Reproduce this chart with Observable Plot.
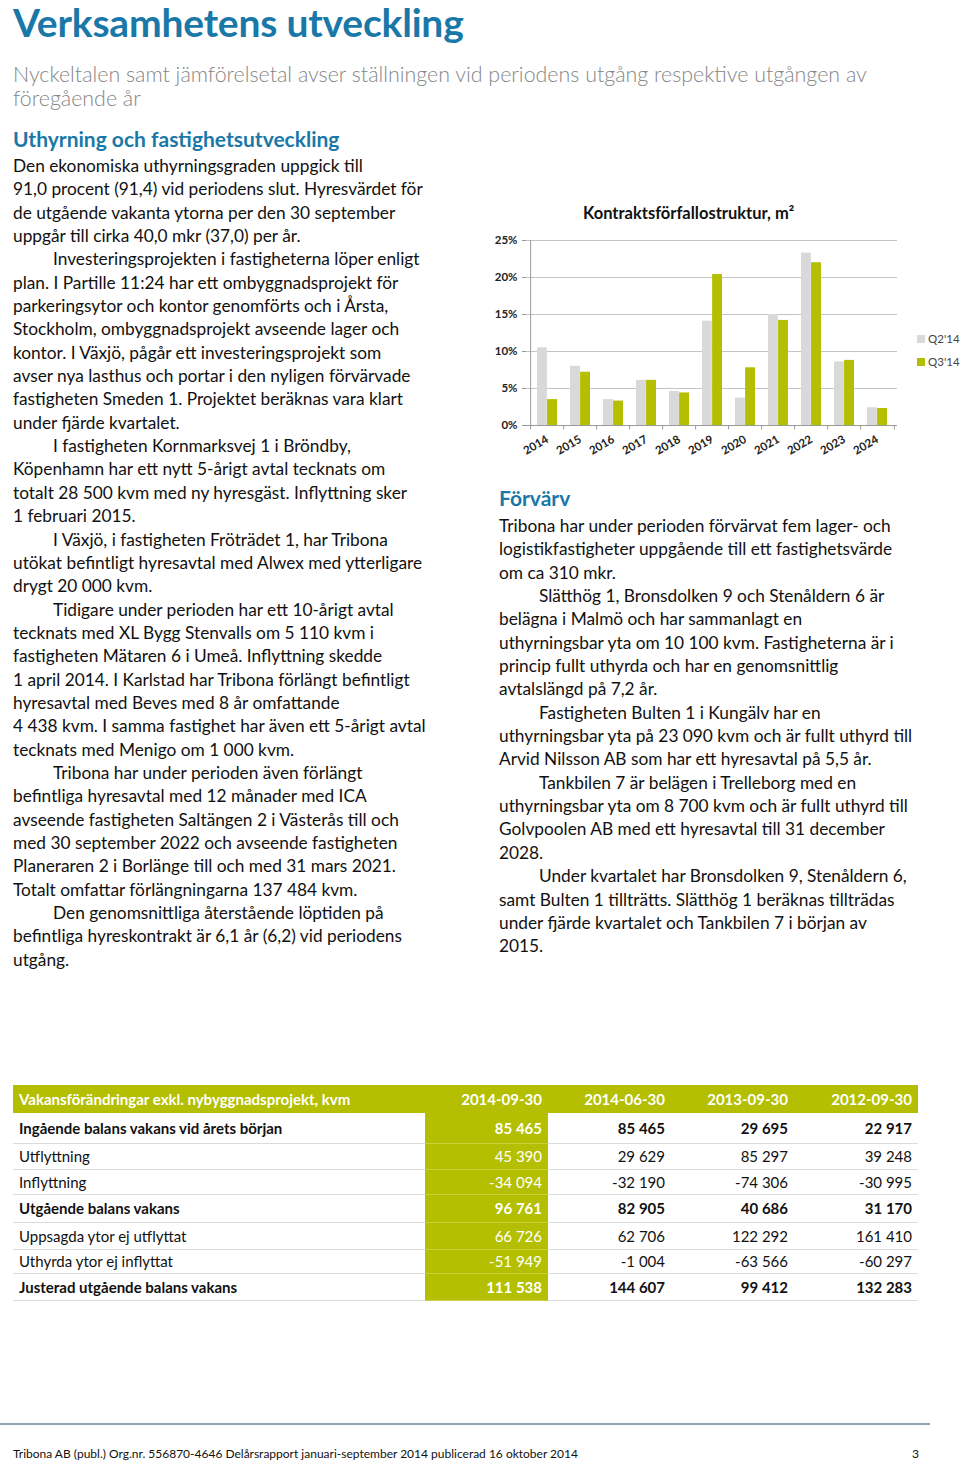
<!DOCTYPE html>
<html><head><meta charset="utf-8">
<script src="https://cdn.jsdelivr.net/npm/d3@7"></script>
<script src="https://cdn.jsdelivr.net/npm/@observablehq/plot@0.6"></script>
<style>
body{margin:0;width:960px;height:1465px;position:relative;background:#fff;font-family:Lato,"Open Sans",sans-serif;color:#111;overflow:hidden}
.abs{position:absolute;white-space:nowrap}
.title{left:13px;top:0px;font-size:39px;line-height:44px;font-weight:700;color:#1a78a8;letter-spacing:-0.2px}
.sub{left:13px;top:62px;font-size:21.4px;font-weight:300;color:#868686;line-height:24px}
.h2{font-size:21px;font-weight:700;color:#1a78a8}
.body{font-size:17.3px;line-height:23.35px}
.ind{padding-left:40px}
#chart{position:absolute;left:470px;top:228px}
.ctitle{left:583px;top:203px;font-size:16.5px;font-weight:700;color:#111}
.leg{font-size:11.5px;color:#444}
.sw{display:inline-block;width:8px;height:8px;margin-right:3px;vertical-align:0px}
table{position:absolute;left:13px;top:1085px;width:905px;border-collapse:collapse;font-size:15px;table-layout:fixed}
td,th{padding:0 6px;text-align:right;white-space:nowrap}
th{background:#b3bf00;color:#fff;font-weight:700;height:28px}
td{border-bottom:1px solid #dcdcdc}
td:first-child,th:first-child{text-align:left}
.g{background:#b3bf00;color:#fff;border-bottom:1px solid #c8d23a}
.b td{font-weight:700}
.foot{left:13px;top:1446px;font-size:12px}
</style></head>
<body>
<div class="abs title">Verksamhetens utveckling</div>
<div class="abs sub">Nyckeltalen samt jämförelsetal avser ställningen vid periodens utgång respektive utgången av<br>föregående år</div>

<div class="abs h2" style="left:13px;top:126px">Uthyrning och fastighetsutveckling</div>
<div class="abs body" id="left" style="left:13px;top:154px"></div>

<div class="abs ctitle">Kontraktsförfallostruktur, m²</div>
<div id="chart"></div>
<div class="abs leg" id="legend" style="left:917px;top:327px;line-height:23px"></div>

<div class="abs h2" style="left:499px;top:485px">Förvärv</div>
<div class="abs body" id="right" style="left:499px;top:514px"></div>

<table id="tbl"></table>

<div class="abs" style="left:0;top:1423px;width:930px;height:2px;background:#8ea3b6"></div>
<div class="abs foot">Tribona AB (publ.) Org.nr. 556870-4646 Delårsrapport januari-september 2014 publicerad 16 oktober 2014</div>
<div class="abs foot" style="left:912px">3</div>

<script>
// ---- chart data ----
const years = ["2014","2015","2016","2017","2018","2019","2020","2021","2022","2023","2024"];
const seriesNames = ["Q2'14","Q3'14"];
const q2 = [10.5, 8.0, 3.5, 6.1, 4.6, 14.1, 3.7, 15.0, 23.3, 8.6, 2.4];
const q3 = [3.5, 7.2, 3.3, 6.1, 4.4, 20.4, 7.8, 14.2, 22.0, 8.8, 2.3];
const yTicks = [0, 5, 10, 15, 20, 25];
const seriesColors = ["#d9d9d9", "#b3bf00"];

// ---- table data ----
const tableTitle = "Vakansförändringar exkl. nybyggnadsprojekt, kvm";
const tableDates = ["2014-09-30","2014-06-30","2013-09-30","2012-09-30"];
const rowLabels = ["Ingående balans vakans vid årets början","Utflyttning","Inflyttning","Utgående balans vakans","Uppsagda ytor ej utflyttat","Uthyrda ytor ej inflyttat","Justerad utgående balans vakans"];
const boldRows = [true,false,false,true,false,false,true];
const col20140930 = ["85 465","45 390","-34 094","96 761","66 726","-51 949","111 538"];
const col20140630 = ["85 465","29 629","-32 190","82 905","62 706","-1 004","144 607"];
const col20130930 = ["29 695","85 297","-74 306","40 686","122 292","-63 566","99 412"];
const col20120930 = ["22 917","39 248","-30 995","31 170","161 410","-60 297","132 283"];

// ---- text ----
const leftLines = [
 ["Den ekonomiska uthyrningsgraden uppgick till",0],
 ["91,0 procent (91,4) vid periodens slut. Hyresvärdet för",0],
 ["de utgående vakanta ytorna per den 30 september",0],
 ["uppgår till cirka 40,0 mkr (37,0) per år.",0],
 ["Investeringsprojekten i fastigheterna löper enligt",1],
 ["plan. I Partille 11:24 har ett ombyggnadsprojekt för",0],
 ["parkeringsytor och kontor genomförts och i Årsta,",0],
 ["Stockholm, ombyggnadsprojekt avseende lager och",0],
 ["kontor. I Växjö, pågår ett investeringsprojekt som",0],
 ["avser nya lasthus och portar i den nyligen förvärvade",0],
 ["fastigheten Smeden 1. Projektet beräknas vara klart",0],
 ["under fjärde kvartalet.",0],
 ["I fastigheten Kornmarksvej 1 i Bröndby,",1],
 ["Köpenhamn har ett nytt 5-årigt avtal tecknats om",0],
 ["totalt 28 500 kvm med ny hyresgäst. Inflyttning sker",0],
 ["1 februari 2015.",0],
 ["I Växjö, i fastigheten Fröträdet 1, har Tribona",1],
 ["utökat befintligt hyresavtal med Alwex med ytterligare",0],
 ["drygt 20 000 kvm.",0],
 ["Tidigare under perioden har ett 10-årigt avtal",1],
 ["tecknats med XL Bygg Stenvalls om 5 110 kvm i",0],
 ["fastigheten Mätaren 6 i Umeå. Inflyttning skedde",0],
 ["1 april 2014. I Karlstad har Tribona förlängt befintligt",0],
 ["hyresavtal med Beves med 8 år omfattande",0],
 ["4 438 kvm. I samma fastighet har även ett 5-årigt avtal",0],
 ["tecknats med Menigo om 1 000 kvm.",0],
 ["Tribona har under perioden även förlängt",1],
 ["befintliga hyresavtal med 12 månader med ICA",0],
 ["avseende fastigheten Saltängen 2 i Västerås till och",0],
 ["med 30 september 2022 och avseende fastigheten",0],
 ["Planeraren 2 i Borlänge till och med 31 mars 2021.",0],
 ["Totalt omfattar förlängningarna 137 484 kvm.",0],
 ["Den genomsnittliga återstående löptiden på",1],
 ["befintliga hyreskontrakt är 6,1 år (6,2) vid periodens",0],
 ["utgång.",0]
];
const rightLines = [
 ["Tribona har under perioden förvärvat fem lager- och",0],
 ["logistikfastigheter uppgående till ett fastighetsvärde",0],
 ["om ca 310 mkr.",0],
 ["Slätthög 1, Bronsdolken 9 och Stenåldern 6 är",1],
 ["belägna i Malmö och har sammanlagt en",0],
 ["uthyrningsbar yta om 10 100 kvm. Fastigheterna är i",0],
 ["princip fullt uthyrda och har en genomsnittlig",0],
 ["avtalslängd på 7,2 år.",0],
 ["Fastigheten Bulten 1 i Kungälv har en",1],
 ["uthyrningsbar yta på 23 090 kvm och är fullt uthyrd till",0],
 ["Arvid Nilsson AB som har ett hyresavtal på 5,5 år.",0],
 ["Tankbilen 7 är belägen i Trelleborg med en",1],
 ["uthyrningsbar yta om 8 700 kvm och är fullt uthyrd till",0],
 ["Golvpoolen AB med ett hyresavtal till 31 december",0],
 ["2028.",0],
 ["Under kvartalet har Bronsdolken 9, Stenåldern 6,",1],
 ["samt Bulten 1 tillträtts. Slätthög 1 beräknas tillträdas",0],
 ["under fjärde kvartalet och Tankbilen 7 i början av",0],
 ["2015.",0]
];
function fill(id, lines){
  const el = document.getElementById(id);
  lines.forEach(([t,ind])=>{const d=document.createElement("div");d.textContent=t;if(ind)d.className="ind";el.appendChild(d);});
}
fill("left", leftLines);
fill("right", rightLines);

// ---- chart ----
const data = [];
years.forEach((y,i)=>{data.push({year:y, series:seriesNames[0], value:q2[i]}); data.push({year:y, series:seriesNames[1], value:q3[i]});});
const W = 440, ML = 56, MR = 13, MT = 12, MB = 42, H = MT + 185 + MB;
const step = (W - ML - MR) / years.length;
const bw = step * 0.6;
const half = step / 2;
const font = "Lato, sans-serif";
const chart = Plot.plot({
  width: W, height: H,
  marginLeft: ML, marginRight: MR, marginTop: MT, marginBottom: MB,
  style: {fontFamily: font, background: "transparent", color: "#222"},
  x: {domain: years, paddingInner: 0.4, paddingOuter: 0.2, label: null},
  y: {domain: [0, 25], label: null},
  color: {domain: seriesNames, range: seriesColors},
  marks: [
    Plot.ruleY(yTicks.filter(d => d > 0), {stroke: "#c4c4c4", strokeWidth: 1}),
    Plot.barY(data.filter(d => d.series === seriesNames[0]), {x: "year", y: "value", fill: "series", insetRight: bw / 2}),
    Plot.barY(data.filter(d => d.series === seriesNames[1]), {x: "year", y: "value", fill: "series", insetLeft: bw / 2}),
    Plot.ruleY([0], {stroke: "#9a9a9a"}),
    Plot.ruleX([years[0]], {x: d => d, dx: -half, y1: 0, y2: 25, stroke: "#9a9a9a"}),
    Plot.ruleX(years, {x: d => d, dx: -half, y1: 0, y2: -0.6, stroke: "#9a9a9a"}),
    Plot.ruleX([years[years.length - 1]], {x: d => d, dx: half, y1: 0, y2: -0.6, stroke: "#9a9a9a"}),
    Plot.axisY({ticks: yTicks, tickFormat: d => d + "%", tickSize: 4, tickPadding: 5, fontSize: 11.5, fontWeight: 700, stroke: "#9a9a9a", fill: "#222", label: null}),
    Plot.axisX({tickRotate: -30, tickSize: 0, tickPadding: 13, fontSize: 11.5, fontWeight: 700, fill: "#222", label: null})
  ]
});
document.getElementById("chart").appendChild(chart);

// legend
const leg = document.getElementById("legend");
seriesNames.forEach((s,i)=>{const d=document.createElement("div");d.innerHTML=`<span class="sw" style="background:${seriesColors[i]}"></span>${s}`;leg.appendChild(d);});

// ---- table ----
const tbl = document.getElementById("tbl");
const colW = [412, 123, 123, 123, 124];
const rowH = [30, 26, 25, 28, 27, 24, 27];
let html = `<colgroup>${colW.map(w=>`<col style="width:${w}px">`).join("")}</colgroup>`;
html += `<tr><th>${tableTitle}</th>${tableDates.map(d=>`<th>${d}</th>`).join("")}</tr>`;
const cols = [col20140930, col20140630, col20130930, col20120930];
rowLabels.forEach((lab,i)=>{
  html += `<tr class="${boldRows[i]?'b':''}" style="height:${rowH[i]}px"><td>${lab}</td>` + cols.map((c,j)=>`<td class="${j===0?'g':''}">${c[i]}</td>`).join("") + `</tr>`;
});
tbl.innerHTML = html;
</script>
</body></html>
